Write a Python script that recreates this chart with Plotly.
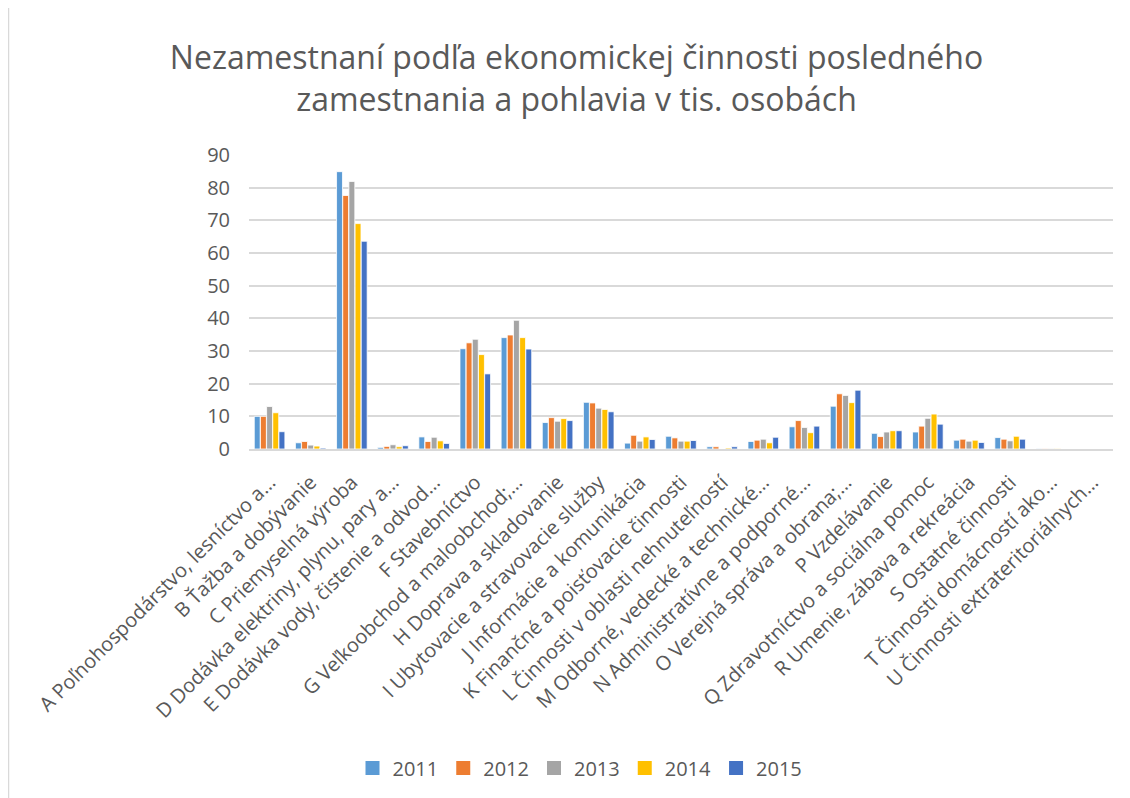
import plotly.graph_objects as go

categories = [
    "A Poľnohospodárstvo, lesníctvo a…",
    "B Ťažba a dobývanie",
    "C Priemyselná výroba",
    "D Dodávka elektriny, plynu, pary a…",
    "E Dodávka vody, čistenie a odvod…",
    "F Stavebníctvo",
    "G Veľkoobchod a maloobchod;…",
    "H Doprava a skladovanie",
    "I Ubytovacie a stravovacie služby",
    "J Informácie a komunikácia",
    "K Finančné a poisťovacie činnosti",
    "L Činnosti v oblasti nehnuteľností",
    "M Odborné, vedecké a technické…",
    "N Administratívne a podporné…",
    "O Verejná správa a obrana;…",
    "P Vzdelávanie",
    "Q Zdravotníctvo a sociálna pomoc",
    "R Umenie, zábava a rekreácia",
    "S Ostatné činnosti",
    "T Činnosti domácností ako…",
    "U Činnosti extrateritoriálnych…",
]

years = ["2011", "2012", "2013", "2014", "2015"]

v2011 = [10.0, 1.9, 84.9, 0.5, 3.7, 30.7, 34.1, 8.1, 14.3, 1.8, 3.9, 0.7, 2.3, 6.8, 13.1, 4.8, 5.2, 2.7, 3.5, 0.1, 0.0]
v2012 = [10.0, 2.3, 77.6, 0.8, 2.3, 32.5, 34.9, 9.6, 14.1, 4.2, 3.4, 0.7, 2.7, 8.7, 16.9, 3.8, 7.0, 3.0, 3.0, 0.1, 0.0]
v2013 = [13.0, 1.2, 81.9, 1.3, 3.6, 33.6, 39.4, 8.5, 12.5, 2.4, 2.4, 0.0, 3.0, 6.6, 16.4, 5.2, 9.4, 2.4, 2.5, 0.1, 0.0]
v2014 = [11.1, 0.9, 69.0, 0.7, 2.5, 28.9, 34.1, 9.3, 12.1, 3.7, 2.4, 0.3, 1.9, 5.0, 14.2, 5.6, 10.7, 2.7, 3.9, 0.1, 0.0]
v2015 = [5.3, 0.3, 63.6, 1.0, 1.7, 23.0, 30.6, 8.7, 11.4, 2.9, 2.6, 0.7, 3.6, 7.0, 18.0, 5.6, 7.6, 2.0, 3.0, 0.0, 0.0]

series = [v2011, v2012, v2013, v2014, v2015]
colors = ["#5B9BD5", "#ED7D31", "#A5A5A5", "#FFC000", "#4472C4"]

y_ticks = [0, 10, 20, 30, 40, 50, 60, 70, 80, 90]

fig = go.Figure()
for name, vals, col in zip(years, series, colors):
    fig.add_trace(go.Bar(
        x=categories, y=vals, name=name, legendgroup=name, showlegend=False,
        marker=dict(color=col, line=dict(color="white", width=0.8)),
    ))
# legend entries with larger square swatches
for name, col in zip(years, colors):
    fig.add_trace(go.Scatter(
        x=[None], y=[None], mode="markers", name=name, legendgroup=name,
        marker=dict(symbol="square", size=14, color=col),
        showlegend=True, hoverinfo="skip",
    ))

font_family = "Open Sans, Noto Sans, sans-serif"
text_col = "#595959"

L, R, T, B = 241, 25, 147, 357
PW = 1130 - L - R
PH = 798 - T - B

fig.update_layout(
    width=1130, height=798,
    autosize=False,
    paper_bgcolor="white", plot_bgcolor="white",
    barmode="group", bargap=0.25, bargroupgap=0.04,
    margin=dict(l=L, r=R, t=T, b=B, autoexpand=False),
    title=dict(
        text="Nezamestnaní podľa ekonomickej činnosti posledného<br>zamestnania a pohlavia v tis. osobách",
        x=568.5 / 1130, xanchor="center", xref="container",
        y=1 - 61 / 798, yanchor="middle", yref="container",
        font=dict(family=font_family, size=32, color=text_col),
    ),
    font=dict(family=font_family, color=text_col),
    showlegend=True,
    legend=dict(
        orientation="h", x=(572 - L) / PW, xanchor="center",
        y=-(760 - (798 - B)) / PH, yanchor="middle",
        font=dict(size=20, color=text_col), itemwidth=30,
        traceorder="normal",
    ),
    xaxis=dict(
        tickangle=-45, tickfont=dict(size=20, color=text_col),
        showgrid=False, showline=True, linecolor="#D9D9D9", linewidth=1.5,
        ticks="", automargin=False, ticklabelstandoff=12,
    ),
    yaxis=dict(
        range=[0, 90], tickvals=y_ticks,
        tickfont=dict(size=20, color=text_col),
        showgrid=True, gridcolor="#D9D9D9", gridwidth=1.5,
        zeroline=False, showline=False, ticks="", ticklen=0,
        ticklabelstandoff=18,
        automargin=False,
    ),
    shapes=[dict(type="line", xref="paper", yref="paper",
                 x0=-(L - 0.5) / PW, x1=-(L - 0.5) / PW,
                 y0=-B / PH, y1=1 + T / PH,
                 line=dict(color="#D9D9D9", width=1.5), layer="below")],
)

fig.write_html("out.html")
